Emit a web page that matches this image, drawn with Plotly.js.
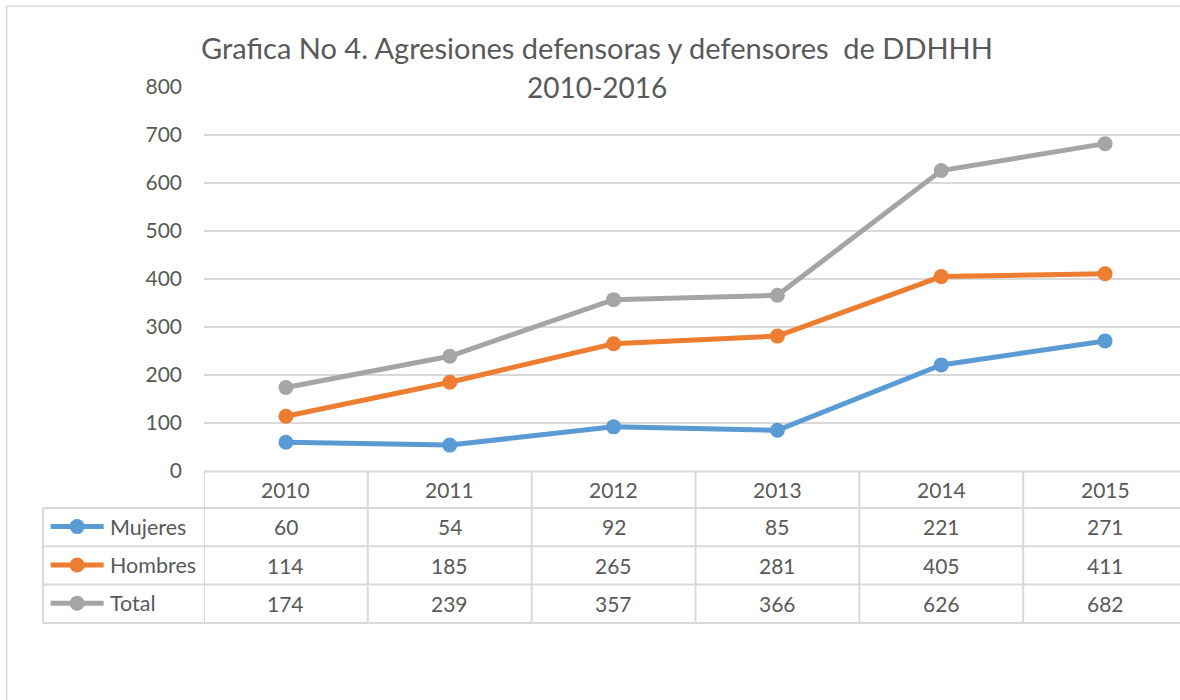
<!DOCTYPE html>
<html>
<head>
<meta charset="utf-8">
<script src="https://cdn.plot.ly/plotly-3.0.1.min.js"></script>
<style>
html,body{margin:0;padding:0;overflow:hidden;background:#fff;width:1180px;height:700px;}
#chart{width:1190px;height:700px;}
</style>
</head>
<body>
<div id="chart"></div>
<script>
// ---- data ----
const years = ["2010", "2011", "2012", "2013", "2014", "2015"];
const seriesNames = ["Mujeres", "Hombres", "Total"];
const mujeres = [60, 54, 92, 85, 221, 271];
const hombres = [114, 185, 265, 281, 405, 411];
const total = [174, 239, 357, 366, 626, 682];
const yTicks = [0, 100, 200, 300, 400, 500, 600, 700, 800];
const titleLine1 = "Grafica No 4. Agresiones defensoras y defensores  de DDHHH";
const titleLine2 = "2010-2016";

// ---- styling / layout ----
const colors = ["#5B9BD5", "#ED7D31", "#A5A5A5"];
const values = [mujeres, hombres, total];
const FONT = "Lato, 'Open Sans', sans-serif";
const TXT = "#595959";
const GRID = "#D9D9D9";
const W = 1190, H = 700;
const L = 204.3, R = W - 1186.7, T = 86.7, B = H - 470.7;
const pw = W - L - R, ph = H - T - B;
const PX = x => (x - L) / pw;
const PY = y => (H - B - y) / ph;

const traces = seriesNames.map((n, i) => ({
  type: "scatter", mode: "lines+markers", name: n,
  x: years, y: values[i],
  line: {color: colors[i], width: 5},
  marker: {color: colors[i], size: 15},
  showlegend: false, hoverinfo: "skip"
}));

const shapes = [];
const annotations = [];
// outer chart border
shapes.push({type: "rect", xref: "paper", yref: "paper", x0: PX(7), x1: PX(1400), y0: PY(6), y1: PY(900),
  line: {color: GRID, width: 1.5}, fillcolor: "rgba(0,0,0,0)", layer: "below"});

// table geometry
const rowLines = [471.2, 507.7, 546, 584.3, 622.7];
const tableLeft = 43.3, tableRight = 1400;
const rowCenters = [526.3, 564.7, 603];
const headerCenter = 489.5;
const tl = {color: GRID, width: 2};
// top (zero) line from plot left
shapes.push({type: "line", xref: "paper", yref: "paper", x0: PX(L), x1: PX(tableRight), y0: PY(rowLines[0]), y1: PY(rowLines[0]), line: tl});
for (let k = 1; k < rowLines.length; k++) {
  shapes.push({type: "line", xref: "paper", yref: "paper", x0: PX(tableLeft), x1: PX(tableRight), y0: PY(rowLines[k]), y1: PY(rowLines[k]), line: tl});
}
// left legend column border
shapes.push({type: "line", xref: "paper", yref: "paper", x0: PX(tableLeft), x1: PX(tableLeft), y0: PY(rowLines[1]), y1: PY(rowLines[4]), line: tl});
// column boundaries (category positions)
for (let c = 0; c <= years.length; c++) {
  shapes.push({type: "line", xref: "x", yref: "paper", x0: c - 0.5, x1: c - 0.5, y0: PY(rowLines[0]), y1: PY(rowLines[4]), line: tl});
}
// header years
years.forEach((yr, c) => {
  annotations.push({xref: "x", yref: "paper", x: c, y: PY(headerCenter), text: yr, showarrow: false,
    xanchor: "center", yanchor: "middle", font: {family: FONT, size: 21, color: TXT}});
});
// rows
seriesNames.forEach((n, i) => {
  const cy = rowCenters[i];
  // legend key
  shapes.push({type: "line", xref: "paper", yref: "paper", x0: PX(51), x1: PX(104), y0: PY(cy), y1: PY(cy),
    line: {color: colors[i], width: 5}});
  shapes.push({type: "circle", xref: "paper", yref: "paper", x0: PX(77.5 - 7.5), x1: PX(77.5 + 7.5), y0: PY(cy - 7.5), y1: PY(cy + 7.5),
    line: {width: 0}, fillcolor: colors[i]});
  annotations.push({xref: "paper", yref: "paper", x: PX(108), y: PY(cy), text: n, showarrow: false,
    xanchor: "left", yanchor: "middle", font: {family: FONT, size: 21.5, color: TXT}});
  values[i].forEach((v, c) => {
    annotations.push({xref: "x", yref: "paper", x: c, y: PY(cy), text: String(v), showarrow: false,
      xanchor: "center", yanchor: "middle", font: {family: FONT, size: 21, color: TXT}});
  });
});
// title
annotations.push({xref: "paper", yref: "paper", x: PX(597), y: PY(47), text: titleLine1, showarrow: false,
  xanchor: "center", yanchor: "middle", font: {family: FONT, size: 29, color: TXT}});
annotations.push({xref: "paper", yref: "paper", x: PX(597), y: PY(87), text: titleLine2, showarrow: false,
  xanchor: "center", yanchor: "middle", font: {family: FONT, size: 28, color: TXT}});

const layout = {
  width: W, height: H,
  margin: {l: L, r: R, t: T, b: B, pad: 0},
  paper_bgcolor: "#fff", plot_bgcolor: "#fff",
  showlegend: false,
  xaxis: {type: "category", range: [-0.5, years.length - 0.5], showticklabels: false, showgrid: false,
    zeroline: false, showline: false, ticks: "", fixedrange: true},
  yaxis: {range: [0, 800], tickvals: yTicks, ticktext: yTicks.map(String), showgrid: true, gridcolor: GRID, gridwidth: 1.5,
    zeroline: false, showline: false, ticks: "", ticklabelstandoff: 21,
    tickfont: {family: FONT, size: 21, color: TXT}, fixedrange: true},
  shapes: shapes,
  annotations: annotations
};
Plotly.newPlot("chart", traces, layout, {displayModeBar: false, staticPlot: true});
</script>
</body>
</html>
